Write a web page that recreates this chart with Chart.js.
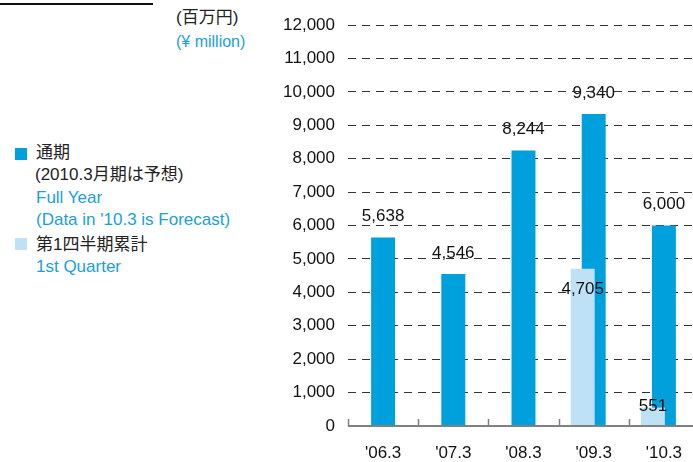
<!DOCTYPE html>
<html>
<head>
<meta charset="utf-8">
<script src="https://cdn.jsdelivr.net/npm/chart.js@4"></script>
<style>
  html, body { margin: 0; padding: 0; background: #fff; overflow: hidden; }
  body { width: 693px; height: 462px; position: relative; font-family: "Liberation Sans", "Noto Sans CJK JP", sans-serif; }
  #wrap { position: absolute; left: 0; top: 0; width: 710px; height: 462px; }
  .t { position: absolute; font-size: 17px; line-height: 22px; white-space: nowrap; color: #222; }
  .b { color: #1aa0dc; }
  .sq { position: absolute; width: 12px; height: 12px; }
</style>
</head>
<body>
<div style="position:absolute;left:0;top:3px;width:153px;height:2px;background:#111"></div>
<div class="t" style="left:176px;top:7px">(百万円)</div>
<div class="t b" style="left:176px;top:31px;font-size:16px">(¥ million)</div>

<div class="sq" style="left:15px;top:148px;background:#00a0dc"></div>
<div class="t" style="left:36px;top:142px">通期</div>
<div class="t" style="left:35px;top:164px">(2010.3月期は予想)</div>
<div class="t b" style="left:36px;top:187px">Full Year</div>
<div class="t b" style="left:36px;top:209px">(Data in '10.3 is Forecast)</div>
<div class="sq" style="left:15px;top:238px;background:#bfe1f5"></div>
<div class="t" style="left:36px;top:234px">第1四半期累計</div>
<div class="t b" style="left:36px;top:256px">1st Quarter</div>

<div id="wrap"><canvas id="chart"></canvas></div>
<script>
var years = ["'06.3", "'07.3", "'08.3", "'09.3", "'10.3"];
var fullYear = [5638, 4546, 8244, 9340, 6000];
var firstQuarter = [null, null, null, 4705, 551];

// label offsets (px from bar top) for the 1st quarter values
var quarterLabelShift = [0, 0, 0, 21, -1];

var labelFont = '17px "Liberation Sans", sans-serif';

// full year values sit above the bars, under the dashed grid
var fullLabels = {
  id: 'fullLabels',
  beforeDraw: function (chart) {
    var ctx = chart.ctx;
    ctx.save();
    ctx.font = labelFont;
    ctx.fillStyle = '#111';
    ctx.textAlign = 'center';
    ctx.textBaseline = 'middle';
    chart.getDatasetMeta(1).data.forEach(function (bar, i) {
      ctx.fillText(fullYear[i].toLocaleString('en-US'), bar.x, bar.y - 21);
    });
    ctx.restore();
  }
};

var quarterLabels = {
  id: 'quarterLabels',
  afterDatasetsDraw: function (chart) {
    var ctx = chart.ctx;
    ctx.save();
    ctx.font = labelFont;
    ctx.fillStyle = '#111';
    ctx.textAlign = 'center';
    ctx.textBaseline = 'middle';
    chart.getDatasetMeta(0).data.forEach(function (bar, i) {
      if (firstQuarter[i] == null) return;
      ctx.fillText(firstQuarter[i].toLocaleString('en-US'), bar.x, bar.y + quarterLabelShift[i]);
    });
    ctx.restore();
  }
};

// x axis line with small upward ticks between categories
var baseAxis = {
  id: 'baseAxis',
  afterDatasetsDraw: function (chart) {
    var ctx = chart.ctx, x = chart.scales.x, y0 = chart.scales.y.getPixelForValue(0);
    var half = (x.getPixelForValue(1) - x.getPixelForValue(0)) / 2;
    ctx.save();
    ctx.strokeStyle = '#808080';
    ctx.lineWidth = 2;
    ctx.beginPath();
    ctx.moveTo(chart.chartArea.left, y0);
    ctx.lineTo(chart.chartArea.right, y0);
    ctx.stroke();
    ctx.beginPath();
    for (var i = 0; i <= years.length; i++) {
      var px = Math.round(x.getPixelForValue(i) - half) + 0.5;
      ctx.moveTo(px, y0);
      ctx.lineTo(px, y0 - 7);
    }
    ctx.lineWidth = 1.5;
    ctx.stroke();
    ctx.restore();
  }
};

new Chart(document.getElementById('chart'), {
  type: 'bar',
  data: {
    labels: years,
    datasets: [
      { label: '第1四半期累計', data: firstQuarter, backgroundColor: '#bfe1f5' },
      { label: '通期', data: fullYear, backgroundColor: '#00a0dc' },
      { label: '', data: [null, null, null, null, null] }
    ]
  },
  options: {
    responsive: true,
    maintainAspectRatio: false,
    animation: false,
    categoryPercentage: 0.47,
    barPercentage: 2.18,
    layout: { padding: { left: 268, right: 11, top: 25, bottom: 0 } },
    plugins: { legend: { display: false }, tooltip: { enabled: false } },
    scales: {
      x: {
        grid: { display: false },
        border: { display: false },
        ticks: { color: '#111', padding: 9, font: { size: 17, family: '"Liberation Sans", sans-serif' } },
        afterFit: function (s) { s.height = 36; }
      },
      y: {
        min: 0, max: 12000,
        ticks: {
          stepSize: 1000, color: '#111', padding: 13,
          font: { size: 17, family: '"Liberation Sans", sans-serif' },
          callback: function (v) { return v.toLocaleString('en-US'); }
        },
        grid: { color: '#333', lineWidth: 1, drawTicks: false },
        border: { display: false, dash: [8, 6] },
        afterFit: function (s) { s.width = 80; }
      }
    }
  },
  plugins: [fullLabels, quarterLabels, baseAxis]
});
</script>
</body>
</html>
